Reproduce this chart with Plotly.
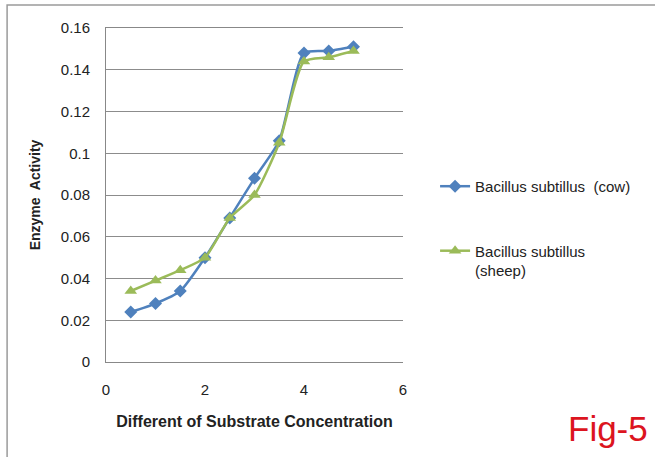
import plotly.graph_objects as go

conc = [0.5, 1.0, 1.5, 2.0, 2.5, 3.0, 3.5, 4.0, 4.5, 5.0]
cow = [0.024, 0.028, 0.034, 0.050, 0.069, 0.088, 0.106, 0.148, 0.149, 0.151]
sheep = [0.034, 0.039, 0.044, 0.050, 0.069, 0.080, 0.105, 0.144, 0.146, 0.149]
x_ticks = [0, 2, 4, 6]
y_ticks = [0, 0.02, 0.04, 0.06, 0.08, 0.1, 0.12, 0.14, 0.16]
y_labels = ["0", "0.02", "0.04", "0.06", "0.08", "0.1", "0.12", "0.14", "0.16"]

FONT = "Liberation Sans, Arial"

fig = go.Figure()
fig.add_trace(go.Scatter(
    x=conc, y=cow, mode="lines+markers", name="Bacillus subtillus  (cow)",
    line=dict(color="#4F81BD", width=2.5, shape="spline", smoothing=0.6),
    marker=dict(symbol="diamond", size=10, color="#4F81BD"),
    legendgroup="a",
))
fig.add_trace(go.Scatter(
    x=conc, y=sheep, mode="lines+markers", name="Bacillus subtillus<br>(sheep)",
    line=dict(color="#9BBB59", width=2.5, shape="spline", smoothing=0.6),
    marker=dict(symbol="triangle-up", size=11, color="#9BBB59"),
    legendgroup="b",
))

fig.update_layout(
    width=655, height=457,
    margin=dict(l=106, r=252, t=28, b=95),
    paper_bgcolor="white", plot_bgcolor="white",
    font=dict(family=FONT, size=14, color="#222"),
    showlegend=True,
    legend=dict(x=1.108, y=0.575, xanchor="left", yanchor="top",
                font=dict(family=FONT, size=15, color="#222"),
                traceorder="grouped", tracegroupgap=42, valign="top",
                itemwidth=30, bgcolor="rgba(0,0,0,0)"),
    xaxis=dict(range=[0, 6], tickvals=x_ticks, ticktext=[str(v) for v in x_ticks],
               showgrid=False, zeroline=False, showline=True, linecolor="#888",
               linewidth=1, mirror=True, ticks="", ticklabelstandoff=14,
               tickfont=dict(size=15, color="#222"),
               title=dict(text="<b>Different of Substrate Concentration</b>",
                          font=dict(family=FONT, size=16, color="#222"), standoff=18)),
    yaxis=dict(range=[0, 0.16], tickvals=y_ticks, ticktext=y_labels,
               showgrid=True, gridcolor="#8c8c8c", gridwidth=1, zeroline=False,
               showline=True, linecolor="#888", linewidth=1, ticks="",
               ticklabelstandoff=12,
               tickfont=dict(size=15, color="#222"),
               title=dict(text="<b>Enzyme  Activity</b>",
                          font=dict(family=FONT, size=14, color="#222"), standoff=16)),
    shapes=[dict(type="rect", xref="paper", yref="paper",
                 x0=-0.333, x1=1.9, y0=-0.4, y1=1.069,
                 line=dict(color="#9a9a9a", width=1.5), layer="below")],
    annotations=[dict(text="Fig-5", xref="paper", yref="paper", x=1.83, y=-0.2,
                      xanchor="right", yanchor="middle", showarrow=False,
                      font=dict(family=FONT, size=35, color="#dc1420"))],
)

fig.write_html("out.html")
